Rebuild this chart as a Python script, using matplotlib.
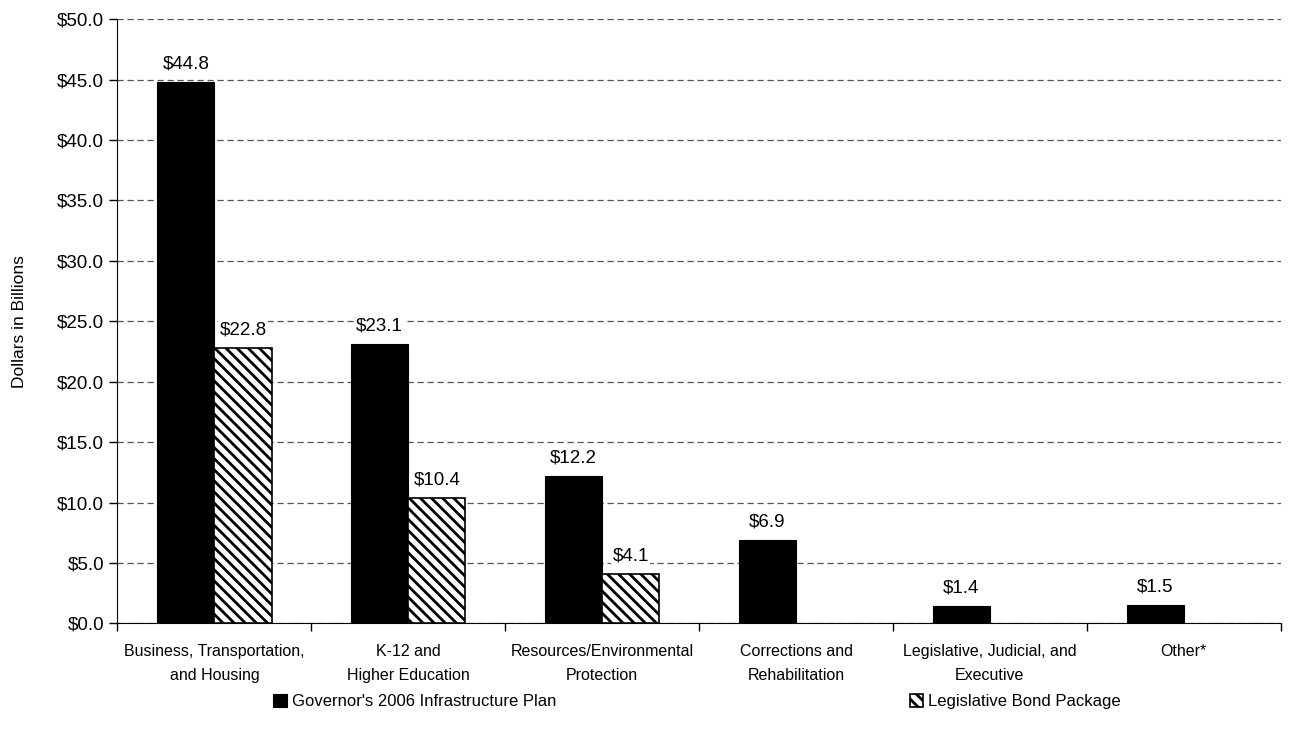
import matplotlib.pyplot as plt
import numpy as np

# categories and values (billions of dollars)
kategorije = ['Business, Transportation,\nand Housing', 'K-12 and\nHigher Education',
              'Resources/Environmental\nProtection', 'Corrections and\nRehabilitation',
              'Legislative, Judicial, and\nExecutive', 'Other*']
guverner = [44.8, 23.1, 12.2, 6.9, 1.4, 1.5]
zakonodaja = [22.8, 10.4, 4.1, None, None, None]

plt.rcParams['font.family'] = ['Liberation Sans', 'DejaVu Sans']
plt.rcParams['hatch.linewidth'] = 2.0

fig, ax = plt.subplots(figsize=(12.91, 7.36), dpi=100)
fig.subplots_adjust(left=0.091, right=0.992, top=0.974, bottom=0.153)

x = np.arange(len(kategorije))
w = 0.295
b1 = ax.bar(x - w / 2, guverner, w, color='black', edgecolor='black', linewidth=0.8,
            label="Governor's 2006 Infrastructure Plan", zorder=3)
zv = [v if v is not None else 0 for v in zakonodaja]
b2 = ax.bar(x + w / 2, zv, w, color='white', edgecolor='black', hatch='\\\\\\',
            linewidth=1.2, label='Legislative Bond Package', zorder=3)
for i, v in enumerate(zakonodaja):
    if v is None:
        b2[i].set_visible(False)

for i, v in enumerate(guverner):
    ax.text(x[i] - w / 2, v + 0.8, f'${v:.1f}', ha='center', va='bottom', fontsize=13.5,
            bbox=dict(facecolor='white', edgecolor='none', pad=1), zorder=4)
for i, v in enumerate(zakonodaja):
    if v is not None:
        ax.text(x[i] + w / 2, v + 0.8, f'${v:.1f}', ha='center', va='bottom', fontsize=13.5,
                bbox=dict(facecolor='white', edgecolor='none', pad=1), zorder=4)

ax.set_xlim(-0.5, len(kategorije) - 0.5)
ax.set_ylim(0, 50)
ax.set_yticks(np.arange(0, 50.1, 5))
ax.set_yticklabels([f'${t:.1f}' for t in np.arange(0, 50.1, 5)], fontsize=13.5)
ax.set_ylabel('Dollars in Billions', fontsize=12.5, labelpad=22)
ax.yaxis.grid(True, linestyle=(0, (5, 3)), color='#555555', linewidth=0.9, zorder=0)
ax.set_axisbelow(True)

ax.set_xticks(x)
ax.set_xticklabels(kategorije, fontsize=11.5, linespacing=1.7)
ax.tick_params(axis='x', length=0, pad=15)
ax.set_xticks(np.arange(-0.5, len(kategorije)), minor=True)
ax.tick_params(axis='x', which='minor', length=6, width=1)
ax.tick_params(axis='y', length=6, width=1)

for s in ['top', 'right']:
    ax.spines[s].set_visible(False)

fig.legend(handles=[b1], loc='center left', bbox_to_anchor=(0.2, 0.047), frameon=False,
           fontsize=12, handlelength=0.8, handleheight=0.8, handletextpad=0.3)
fig.legend(handles=[b2], loc='center left', bbox_to_anchor=(0.693, 0.047), frameon=False,
           fontsize=12, handlelength=0.8, handleheight=0.8, handletextpad=0.3)

plt.savefig('out.png', dpi=100)
